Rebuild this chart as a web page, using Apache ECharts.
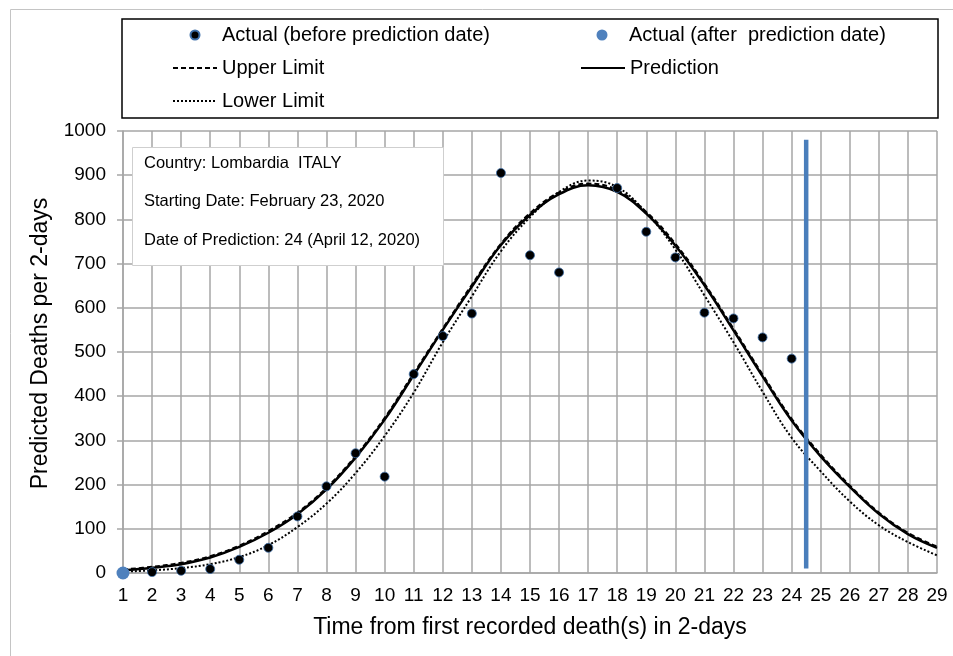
<!DOCTYPE html>
<html><head><meta charset="utf-8">
<script src="https://cdn.jsdelivr.net/npm/echarts@6/dist/echarts.min.js"></script>
<style>html,body{margin:0;padding:0;background:#fff}#chart{width:953px;height:656px}</style>
</head><body><div id="chart"></div>
<script>
// ---- data ----
const xValues = [1,2,3,4,5,6,7,8,9,10,11,12,13,14,15,16,17,18,19,20,21,22,23,24,25,26,27,28,29];
const xTickLabels = ['1','2','3','4','5','6','7','8','9','10','11','12','13','14','15','16','17','18','19','20','21','22','23','24','25','26','27','28','29'];
const yTickLabels = ['0','100','200','300','400','500','600','700','800','900','1000'];
const actualBeforeX = [2,3,4,5,6,7,8,9,10,11,12,13,14,15,16,18,19,20,21,22,23,24];
const actualBefore  = [2,5,9,30,57,128,196,271,218,450,536,587,905,719,680,871,772,714,589,576,533,485];
const actualAfterX = [1];
const actualAfter  = [0];
const prediction = [6,12,20,35,59,91,133,189,261,347,448,550,648,742,810,857,877,862,813,741,651,549,445,345,264,195,134,88,57];
const upperLimit = [8,14,23,38,62,95,137,193,265,351,452,553,652,745,814,861,881,866,817,745,655,553,449,349,268,198,137,91,60];
const lowerLimit = [3,6,11,20,36,63,104,157,226,310,408,522,626,728,805,862,888,873,815,732,628,522,410,306,230,162,108,70,40];
const predictionDateX = [24.5, 24.5];
const predictionDateY = [10, 980];
const infoLines = ['Country: Lombardia  ITALY', 'Starting Date: February 23, 2020', 'Date of Prediction: 24 (April 12, 2020)'];
const seriesNames = ['Actual (before prediction date)', 'Actual (after  prediction date)', 'Upper Limit', 'Prediction', 'Lower Limit'];

const pair = (xs, ys) => xs.map((x, i) => [x, ys[i]]);
const FONT = "'Liberation Sans', Arial, sans-serif";
const GRID = '#a6a6a6';

const chart = echarts.init(document.getElementById('chart'), null, {renderer: 'canvas'});
const legendBase = {padding: 0, selectedMode: false, itemGap: 0,
  textStyle: {fontFamily: FONT, fontSize: 20, color: '#000'}, itemWidth: 44};
const lineLegend = {itemHeight: 12, itemStyle: {opacity: 0, borderWidth: 0}};
chart.setOption({
  animation: false,
  textStyle: {fontFamily: FONT},
  grid: {left: 123, right: 16, top: 131, bottom: 83, outerBoundsMode: 'none', containLabel: false},
  legend: [
    Object.assign({}, legendBase, {data: [seriesNames[0]], left: 189.5, top: 25, itemHeight: 9}),
    Object.assign({}, legendBase, {data: [seriesNames[1]], left: 596.5, top: 25, itemHeight: 11}),
    Object.assign({}, legendBase, lineLegend, {data: [seriesNames[2]], left: 172, top: 58}),
    Object.assign({}, legendBase, lineLegend, {data: [seriesNames[3]], left: 580, top: 58}),
    Object.assign({}, legendBase, lineLegend, {data: [seriesNames[4]], left: 172, top: 91})
  ],
  xAxis: {
    type: 'value', min: 1, max: 29, interval: 1,
    name: 'Time from first recorded death(s) in 2-days', nameLocation: 'middle', nameGap: 43,
    nameTextStyle: {fontSize: 23, color: '#000', fontFamily: FONT},
    axisLine: {show: true, lineStyle: {color: GRID, width: 1.5}},
    axisTick: {show: false},
    axisLabel: {fontSize: 19, color: '#000', margin: 13, fontFamily: FONT,
      formatter: v => xTickLabels[xValues.indexOf(v)] ?? ''},
    splitLine: {show: true, lineStyle: {color: GRID, width: 1.5}}
  },
  yAxis: {
    type: 'value', min: 0, max: 1000, interval: 100,
    name: 'Predicted Deaths per 2-days', nameLocation: 'middle', nameGap: 71, nameRotate: 90,
    nameTextStyle: {fontSize: 23, color: '#000', fontFamily: FONT, padding: [0, 0, 0, 17]},
    axisLine: {show: true, lineStyle: {color: GRID, width: 1.5}},
    axisTick: {show: true, length: 6, inside: false, lineStyle: {color: GRID, width: 1.5}},
    axisLabel: {fontSize: 19, color: '#000', margin: 17, fontFamily: FONT,
      formatter: v => yTickLabels[Math.round(v / 100)] ?? ''},
    splitLine: {show: true, lineStyle: {color: GRID, width: 1.5}}
  },
  series: [
    {name: seriesNames[4], type: 'line', data: pair(xValues, lowerLimit), smooth: 0.4, symbol: 'none',
      lineStyle: {color: '#000', width: 2, type: [2, 2]}, itemStyle: {color: '#000'}, z: 3},
    {name: seriesNames[2], type: 'line', data: pair(xValues, upperLimit), smooth: 0.4, symbol: 'none',
      lineStyle: {color: '#000', width: 2, type: [5, 3]}, itemStyle: {color: '#000'}, z: 3},
    {name: seriesNames[3], type: 'line', data: pair(xValues, prediction), smooth: 0.4, symbol: 'none',
      lineStyle: {color: '#000', width: 2.5}, itemStyle: {color: '#000'}, z: 4},
    {name: 'predictionDate', type: 'line', data: pair(predictionDateX, predictionDateY), symbol: 'none',
      lineStyle: {color: '#4a7ebb', width: 4.5}, z: 5, clip: false},
    {name: seriesNames[0], type: 'scatter', data: pair(actualBeforeX, actualBefore), symbol: 'circle', symbolSize: 9,
      itemStyle: {color: '#000', borderColor: '#3d6ea8', borderWidth: 0.8, opacity: 1}, z: 6, clip: false},
    {name: seriesNames[1], type: 'scatter', data: pair(actualAfterX, actualAfter), symbol: 'circle', symbolSize: 13,
      itemStyle: {color: '#4f81bd', opacity: 1}, z: 7, clip: false}
  ],
  graphic: [
    {type: 'rect', shape: {x: 10.5, y: 9.5, width: 1000, height: 700}, style: {fill: 'none', stroke: '#c4c4c4', lineWidth: 1}, z: 1},
    {type: 'rect', shape: {x: 122, y: 19, width: 816, height: 99}, style: {fill: 'none', stroke: '#000', lineWidth: 1.5}, z: 1},
    {type: 'group', z: 10, children: [
      {type: 'rect', shape: {x: 132.5, y: 147.5, width: 311, height: 118}, style: {fill: '#fff', stroke: '#cfcfcf', lineWidth: 1}, z: 10},
      {type: 'text', x: 144, y: 163, style: {text: infoLines[0], font: '16.5px ' + FONT, fill: '#000', verticalAlign: 'middle'}, z: 11},
      {type: 'text', x: 144, y: 201, style: {text: infoLines[1], font: '16.5px ' + FONT, fill: '#000', verticalAlign: 'middle'}, z: 11},
      {type: 'text', x: 144, y: 240, style: {text: infoLines[2], font: '16.5px ' + FONT, fill: '#000', verticalAlign: 'middle'}, z: 11}
    ]}
  ]
});
</script></body></html>
